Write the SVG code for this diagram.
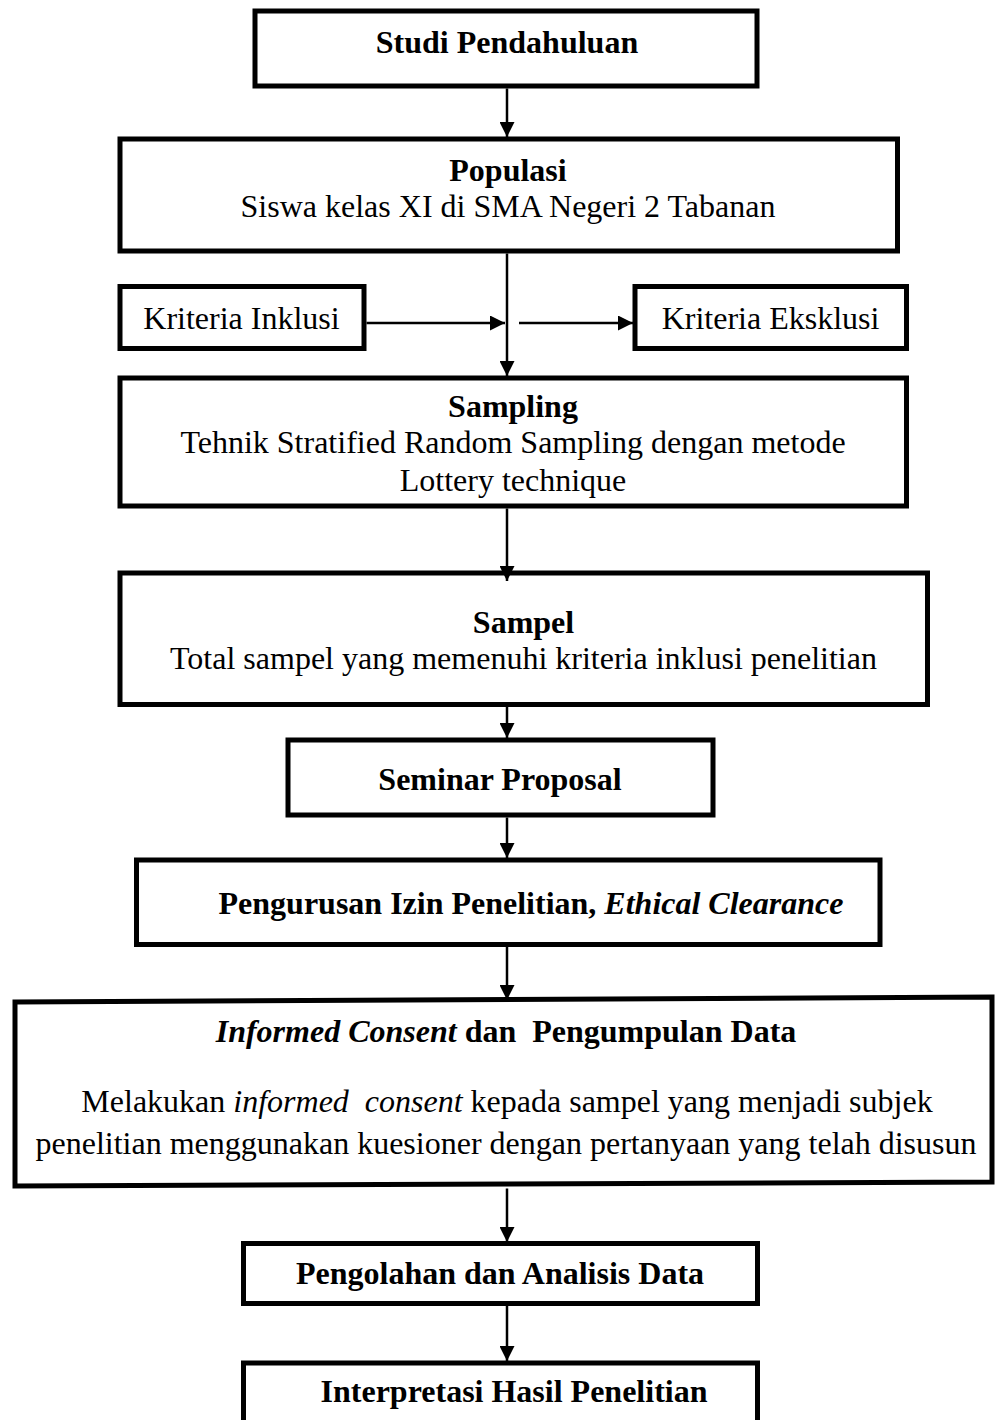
<svg xmlns="http://www.w3.org/2000/svg" width="997" height="1420" viewBox="0 0 997 1420">
<style>
.box{fill:#fff;stroke:#000;stroke-width:5}
.t{font-family:"Liberation Serif","Times New Roman",serif;font-size:32px;fill:#000;text-anchor:middle}
.b{font-weight:bold}
.i{font-style:italic}
.ln{stroke:#000;stroke-width:2.5;fill:none}
</style>
<defs>
<marker id="ah" markerUnits="userSpaceOnUse" markerWidth="15" markerHeight="15" refX="15" refY="7.5" orient="auto">
<path d="M0,0 L15,7.5 L0,15 Z" fill="#000"/>
</marker>
</defs>
<rect width="997" height="1420" fill="#fff"/>
<g id="n-studi">
<rect class="box" x="255" y="11" width="502" height="75"/>
<text class="t b" x="507" y="53">Studi Pendahuluan</text>
</g>
<g id="n-populasi">
<rect class="box" x="120" y="139" width="777.5" height="112"/>
<text class="t b" x="508" y="181">Populasi</text>
<text class="t" x="508" y="217">Siswa kelas XI di SMA Negeri 2 Tabanan</text>
</g>
<g id="n-inklusi">
<rect class="box" x="120" y="286.5" width="244" height="62"/>
<text class="t" x="241.5" y="329">Kriteria Inklusi</text>
</g>
<g id="n-eksklusi">
<rect class="box" x="635" y="286.5" width="271.5" height="62"/>
<text class="t" x="770.5" y="329">Kriteria Eksklusi</text>
</g>
<g id="n-sampling">
<rect class="box" x="120" y="378" width="786.5" height="128"/>
<text class="t b" x="513" y="417">Sampling</text>
<text class="t" x="513" y="453">Tehnik Stratified Random Sampling dengan metode</text>
<text class="t" x="513" y="490.5">Lottery technique</text>
</g>
<g id="n-sampel">
<rect class="box" x="120" y="573" width="807.5" height="131.5"/>
<text class="t b" x="523.5" y="632.5">Sampel</text>
<text class="t" x="523.5" y="668.5">Total sampel yang memenuhi kriteria inklusi penelitian</text>
</g>
<g id="n-seminar">
<rect class="box" x="288" y="740" width="425" height="75"/>
<text class="t b" x="500" y="790">Seminar Proposal</text>
</g>
<g id="n-izin">
<rect class="box" x="136.5" y="860" width="743.5" height="84.5"/>
<text class="t b" x="531" y="913.5">Pengurusan Izin Penelitian, <tspan class="i">Ethical Clearance</tspan></text>
</g>
<g id="n-informed">
<polygon class="box" points="15,1002 992,997 992,1182 15,1186"/>
<text class="t b" x="506" y="1042" xml:space="preserve"><tspan class="i">Informed Consent</tspan> dan  Pengumpulan Data</text>
<text class="t" x="507" y="1111.5" xml:space="preserve">Melakukan <tspan class="i">informed  consent</tspan> kepada sampel yang menjadi subjek</text>
<text class="t" x="506" y="1153.5">penelitian menggunakan kuesioner dengan pertanyaan yang telah disusun</text>
</g>
<g id="n-pengolahan">
<rect class="box" x="243.5" y="1243.5" width="514" height="60"/>
<text class="t b" x="500" y="1283.5">Pengolahan dan Analisis Data</text>
</g>
<g id="n-interpretasi">
<rect class="box" x="243.5" y="1363" width="514" height="80"/>
<text class="t b" x="514" y="1402">Interpretasi Hasil Penelitian</text>
</g>
<g id="connectors">
<line class="ln" x1="507" y1="88.5" x2="507" y2="137" marker-end="url(#ah)"/>
<line class="ln" x1="507" y1="253.5" x2="507" y2="376" marker-end="url(#ah)"/>
<line class="ln" x1="366.5" y1="323" x2="505" y2="323" marker-end="url(#ah)"/>
<line class="ln" x1="519" y1="323" x2="633" y2="323" marker-end="url(#ah)"/>
<line class="ln" x1="507" y1="508.5" x2="507" y2="581" marker-end="url(#ah)"/>
<line class="ln" x1="507" y1="707" x2="507" y2="738" marker-end="url(#ah)"/>
<line class="ln" x1="507" y1="817.5" x2="507" y2="858" marker-end="url(#ah)"/>
<line class="ln" x1="507" y1="947" x2="507" y2="1000" marker-end="url(#ah)"/>
<line class="ln" x1="507" y1="1188.5" x2="507" y2="1242" marker-end="url(#ah)"/>
<line class="ln" x1="507" y1="1306" x2="507" y2="1361" marker-end="url(#ah)"/>
</g>
</svg>
